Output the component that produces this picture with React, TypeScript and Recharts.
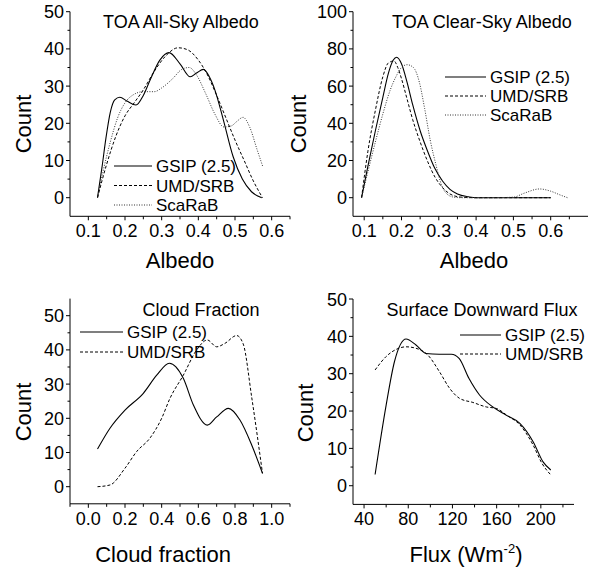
import React from "react";
import { LineChart, Line, XAxis, YAxis, Legend } from "recharts";

const FONT = '"Liberation Sans", Arial, Helvetica, sans-serif';

// --- TOA All-Sky Albedo ---
const allSkyGsipX = [0.125, 0.137, 0.148, 0.16, 0.172, 0.186, 0.205, 0.23, 0.25, 0.27, 0.295, 0.32, 0.35, 0.378, 0.395, 0.414, 0.43, 0.445, 0.468, 0.495, 0.52, 0.545, 0.573];
const allSkyGsipY = [0, 8, 16, 23, 26.3, 27, 26, 24.9, 27.5, 32, 37, 39, 36, 32.5, 33.5, 34.5, 32.5, 29, 21, 11, 5, 1.6, 0];
const allSkyUmdX = [0.125, 0.15, 0.175, 0.2, 0.225, 0.25, 0.28, 0.31, 0.345, 0.37, 0.4, 0.425, 0.45, 0.475, 0.5, 0.525, 0.55, 0.575];
const allSkyUmdY = [0, 9, 16.5, 22, 25.5, 29, 34, 38, 40.3, 39.8, 37, 33, 27.5, 21.5, 15.5, 10, 4.5, 0];
const allSkyScaX = [0.125, 0.14, 0.16, 0.18, 0.2, 0.22, 0.25, 0.28, 0.3, 0.33, 0.355, 0.375, 0.395, 0.42, 0.445, 0.47, 0.49, 0.505, 0.522, 0.54, 0.56, 0.576];
const allSkyScaY = [0, 7, 15, 21.5, 25.5, 27.5, 28.5, 28.5, 29.5, 32, 34.5, 35, 33, 28, 22.5, 19, 19.3, 20.5, 21.6, 19, 13, 8.3];

// --- TOA Clear-Sky Albedo ---
const clearGsipX = [0.093, 0.11, 0.13, 0.15, 0.165, 0.178, 0.187, 0.2, 0.215, 0.23, 0.25, 0.27, 0.29, 0.31, 0.33, 0.35, 0.38, 0.4, 0.5, 0.6];
const clearGsipY = [0, 17, 36, 54, 67, 74, 75.5, 72, 62, 50, 36, 25, 15.5, 9, 4.5, 2, 0.5, 0, 0, 0];
const clearUmdX = [0.093, 0.11, 0.13, 0.15, 0.165, 0.18, 0.19, 0.2, 0.215, 0.23, 0.25, 0.27, 0.29, 0.31, 0.33, 0.36, 0.4, 0.5, 0.6];
const clearUmdY = [0, 25, 47, 65, 72.5, 73.5, 70, 64, 53, 42, 30, 19.5, 11, 5.5, 2, 0.3, 0, 0, 0];
const clearScaX = [0.093, 0.11, 0.13, 0.15, 0.17, 0.185, 0.2, 0.215, 0.232, 0.248, 0.262, 0.277, 0.292, 0.307, 0.322, 0.34, 0.36, 0.45, 0.5, 0.53, 0.57, 0.6, 0.625, 0.645];
const clearScaY = [0, 14, 30, 45, 58, 65, 70, 71.5, 70, 62, 48, 31, 18, 7, 2, 0.3, 0, 0, 0.3, 2.5, 4.7, 3.5, 1.5, 0];

// --- Cloud Fraction ---
const cloudGsipX = [0.05, 0.118, 0.2, 0.3, 0.373, 0.442, 0.518, 0.573, 0.649, 0.7, 0.764, 0.827, 0.891, 0.95];
const cloudGsipY = [11, 17.1, 22.4, 27.3, 32.6, 36.1, 31.7, 23.9, 18, 20.4, 22.9, 19.5, 12.2, 3.9];
const cloudUmdX = [0.05, 0.118, 0.2, 0.264, 0.336, 0.4, 0.445, 0.518, 0.591, 0.649, 0.7, 0.745, 0.809, 0.845, 0.891, 0.95];
const cloudUmdY = [0, 0.5, 5.4, 10.3, 14.2, 20, 25.8, 32.6, 40, 42.9, 40.9, 41.9, 44.2, 41.7, 26.2, 3.9];

// --- Surface Downward Flux ---
const fluxGsipX = [50, 60, 67.5, 78, 87, 96, 108, 119, 126, 135, 144.5, 156.5, 168.5, 181, 193, 202, 209];
const fluxGsipY = [3, 21.6, 33.2, 39.3, 37.7, 35.4, 35.2, 35.2, 34.1, 28.7, 24.3, 21.1, 18.9, 16.7, 11.8, 6.4, 4.2];
const fluxUmdX = [50, 60, 69, 78, 87, 97.7, 108.3, 117.4, 126.4, 138.5, 150.6, 159.6, 170, 181, 193, 201, 209];
const fluxUmdY = [31, 34.6, 36.5, 37.2, 36.8, 35, 30.5, 26.1, 23.4, 22.3, 21.1, 20.7, 18.7, 16.3, 10.9, 6, 2.9];

// tick values (major get labels, minor are short marks)
const albedoMajor = [0.1, 0.2, 0.3, 0.4, 0.5, 0.6];
const albedoMinor = [0.15, 0.25, 0.35, 0.45, 0.55, 0.65];
const cloudMajor = [0, 0.2, 0.4, 0.6, 0.8, 1.0];
const cloudMinor = [-0.1, 0.1, 0.3, 0.5, 0.7, 0.9, 1.1];
const fluxMajor = [40, 80, 120, 160, 200];
const fluxMinor = [60, 100, 140, 180, 220];
const count50Major = [0, 10, 20, 30, 40, 50];
const count50Minor = [5, 15, 25, 35, 45];
const count100Major = [0, 20, 40, 60, 80, 100];
const count100Minor = [10, 30, 50, 70, 90];

const SERIES_STYLE: Record<string, { stroke: string; strokeWidth: number; strokeDasharray?: string }> = {
  "GSIP (2.5)": { stroke: "#000", strokeWidth: 1.1 },
  "UMD/SRB": { stroke: "#000", strokeWidth: 1, strokeDasharray: "3 2" },
  ScaRaB: { stroke: "#333", strokeWidth: 1, strokeDasharray: "1 1.5" },
};
const ORDER = ["GSIP (2.5)", "UMD/SRB", "ScaRaB"];

const pts = (xs: number[], ys: number[]) => xs.map((x, i) => ({ x, y: ys[i] }));
const isIn = (v: number, arr: number[]) => arr.some((a) => Math.abs(a - v) < 1e-9);
const sortAll = (a: number[], b: number[]) => [...a, ...b].sort((p, q) => p - q);

const fmt1 = (v: number) => v.toFixed(1);
const fmt0 = (v: number) => String(v);

function xTick(major: number[], fmt: (v: number) => string) {
  return (p: any) => {
    const v = p.payload.value;
    const big = isIn(v, major);
    return (
      <g>
        <line x1={p.x} x2={p.x} y1={p.y} y2={p.y + (big ? 4 : 3)} stroke="#000" />
        {big && (
          <text x={p.x} y={p.y + 21} textAnchor="middle" fontSize={18} fontFamily={FONT} fill="#000">
            {fmt(v)}
          </text>
        )}
      </g>
    );
  };
}

function yTick(major: number[]) {
  return (p: any) => {
    const v = p.payload.value;
    const big = isIn(v, major);
    return (
      <g>
        <line x1={p.x - (big ? 4 : 2.5)} x2={p.x} y1={p.y} y2={p.y} stroke="#000" />
        {big && (
          <text x={p.x - 6} y={p.y + 6.5} textAnchor="end" fontSize={18} fontFamily={FONT} fill="#000">
            {v}
          </text>
        )}
      </g>
    );
  };
}

type Series = { name: string; data: { x: number; y: number }[] };

type PanelProps = {
  left: number;
  top: number;
  width: number;
  height: number;
  mTop: number;
  mRight: number;
  yWidth: number;
  xHeight: number;
  xDomain: [number, number];
  yDomain: [number, number];
  xMajor: number[];
  xMinor: number[];
  yMajor: number[];
  yMinor: number[];
  xFmt: (v: number) => string;
  series: Series[];
  legend: { left: number; top: number; line: number; row: number };
};

function Panel(p: PanelProps) {
  const L = p.legend;
  const h = p.series.length * L.row + 6;
  return (
    <div style={{ position: "absolute", left: p.left, top: p.top }}>
      <LineChart width={p.width} height={p.height} margin={{ top: p.mTop, right: p.mRight, left: 0, bottom: 0 }}>
        <XAxis
          type="number"
          dataKey="x"
          domain={p.xDomain}
          ticks={sortAll(p.xMajor, p.xMinor)}
          interval={0}
          height={p.xHeight}
          tickSize={0}
          tickMargin={0}
          tickLine={false}
          stroke="#000"
          tick={xTick(p.xMajor, p.xFmt)}
          allowDataOverflow
        />
        <YAxis
          type="number"
          domain={p.yDomain}
          ticks={sortAll(p.yMajor, p.yMinor)}
          interval={0}
          width={p.yWidth}
          tickSize={0}
          tickMargin={0}
          tickLine={false}
          stroke="#000"
          tick={yTick(p.yMajor)}
          allowDataOverflow
        />
        {p.series.map((s) => (
          <Line
            key={s.name}
            data={s.data}
            dataKey="y"
            name={s.name}
            type="monotone"
            dot={false}
            activeDot={false}
            isAnimationActive={false}
            {...SERIES_STYLE[s.name]}
          />
        ))}
        <Legend
          layout="vertical"
          align="center"
          verticalAlign="middle"
          wrapperStyle={{ left: L.left, top: L.top, width: 160, height: h }}
          content={(lp: any) => {
            const items = [...(lp.payload || [])].sort(
              (a: any, b: any) => ORDER.indexOf(a.value) - ORDER.indexOf(b.value)
            );
            return (
              <svg width={160} height={h} style={{ display: "block" }}>
                {items.map((it: any, i: number) => {
                  const st = SERIES_STYLE[it.value];
                  const cy = 10 + i * L.row;
                  return (
                    <g key={it.value}>
                      <line x1={0} x2={L.line} y1={cy} y2={cy} {...st} />
                      <text x={L.line + 4} y={cy + 6} fontSize={17} fontFamily={FONT} fill="#000">
                        {it.value}
                      </text>
                    </g>
                  );
                })}
              </svg>
            );
          }}
        />
      </LineChart>
    </div>
  );
}

function Count({ cx, cy }: { cx: number; cy: number }) {
  return (
    <text transform={`translate(${cx},${cy}) rotate(-90)`} y={8} textAnchor="middle" fontSize={22} fontFamily={FONT}>
      Count
    </text>
  );
}

export default function App() {
  return (
    <div style={{ position: "absolute", left: 0, top: 0, width: 592, height: 571, background: "#fff" }}>
      <Panel
        left={0} top={0} width={296} height={285} mTop={11.7} mRight={6} yWidth={70} xHeight={68.7}
        xDomain={[0.05, 0.65]} yDomain={[-5, 50]}
        xMajor={albedoMajor} xMinor={albedoMinor} yMajor={count50Major} yMinor={count50Minor} xFmt={fmt1}
        series={[
          { name: "GSIP (2.5)", data: pts(allSkyGsipX, allSkyGsipY) },
          { name: "UMD/SRB", data: pts(allSkyUmdX, allSkyUmdY) },
          { name: "ScaRaB", data: pts(allSkyScaX, allSkyScaY) },
        ]}
        legend={{ left: 114, top: 156, line: 38, row: 19.5 }}
      />
      <Panel
        left={296} top={0} width={296} height={285} mTop={11.7} mRight={4} yWidth={57} xHeight={68.7}
        xDomain={[0.07, 0.7]} yDomain={[-10, 100]}
        xMajor={albedoMajor} xMinor={albedoMinor} yMajor={count100Major} yMinor={count100Minor} xFmt={fmt1}
        series={[
          { name: "GSIP (2.5)", data: pts(clearGsipX, clearGsipY) },
          { name: "UMD/SRB", data: pts(clearUmdX, clearUmdY) },
          { name: "ScaRaB", data: pts(clearScaX, clearScaY) },
        ]}
        legend={{ left: 149, top: 67, line: 41, row: 19 }}
      />
      <Panel
        left={0} top={285} width={296} height={286} mTop={13.6} mRight={6} yWidth={70} xHeight={67.2}
        xDomain={[-0.1, 1.1]} yDomain={[-5, 55]}
        xMajor={cloudMajor} xMinor={cloudMinor} yMajor={count50Major} yMinor={count50Minor} xFmt={fmt1}
        series={[
          { name: "GSIP (2.5)", data: pts(cloudGsipX, cloudGsipY) },
          { name: "UMD/SRB", data: pts(cloudUmdX, cloudUmdY) },
        ]}
        legend={{ left: 80, top: 37, line: 43, row: 20 }}
      />
      <Panel
        left={296} top={285} width={296} height={286} mTop={14} mRight={18} yWidth={57} xHeight={66.6}
        xDomain={[30, 230]} yDomain={[-5, 50]}
        xMajor={fluxMajor} xMinor={fluxMinor} yMajor={count50Major} yMinor={count50Minor} xFmt={fmt0}
        series={[
          { name: "GSIP (2.5)", data: pts(fluxGsipX, fluxGsipY) },
          { name: "UMD/SRB", data: pts(fluxUmdX, fluxUmdY) },
        ]}
        legend={{ left: 164, top: 40, line: 41, row: 19 }}
      />
      <svg width={592} height={571} style={{ position: "absolute", left: 0, top: 0, pointerEvents: "none" }}>
        <g fontFamily={FONT} fill="#000">
          <text x={181} y={28} textAnchor="middle" fontSize={18}>TOA All-Sky Albedo</text>
          <text x={482} y={28} textAnchor="middle" fontSize={18}>TOA Clear-Sky Albedo</text>
          <text x={201} y={316} textAnchor="middle" fontSize={18}>Cloud Fraction</text>
          <text x={482} y={316} textAnchor="middle" fontSize={18}>Surface Downward Flux</text>
          <text x={180} y={268} textAnchor="middle" fontSize={22}>Albedo</text>
          <text x={474} y={268} textAnchor="middle" fontSize={22}>Albedo</text>
          <text x={163} y={562} textAnchor="middle" fontSize={22}>Cloud fraction</text>
          <text x={466} y={562} textAnchor="middle" fontSize={22}>
            Flux (Wm<tspan dy={-9} fontSize={13}>-2</tspan><tspan dy={9}>)</tspan>
          </text>
          <Count cx={23} cy={124} />
          <Count cx={298} cy={124} />
          <Count cx={23} cy={412} />
          <Count cx={305} cy={413} />
        </g>
      </svg>
    </div>
  );
}
